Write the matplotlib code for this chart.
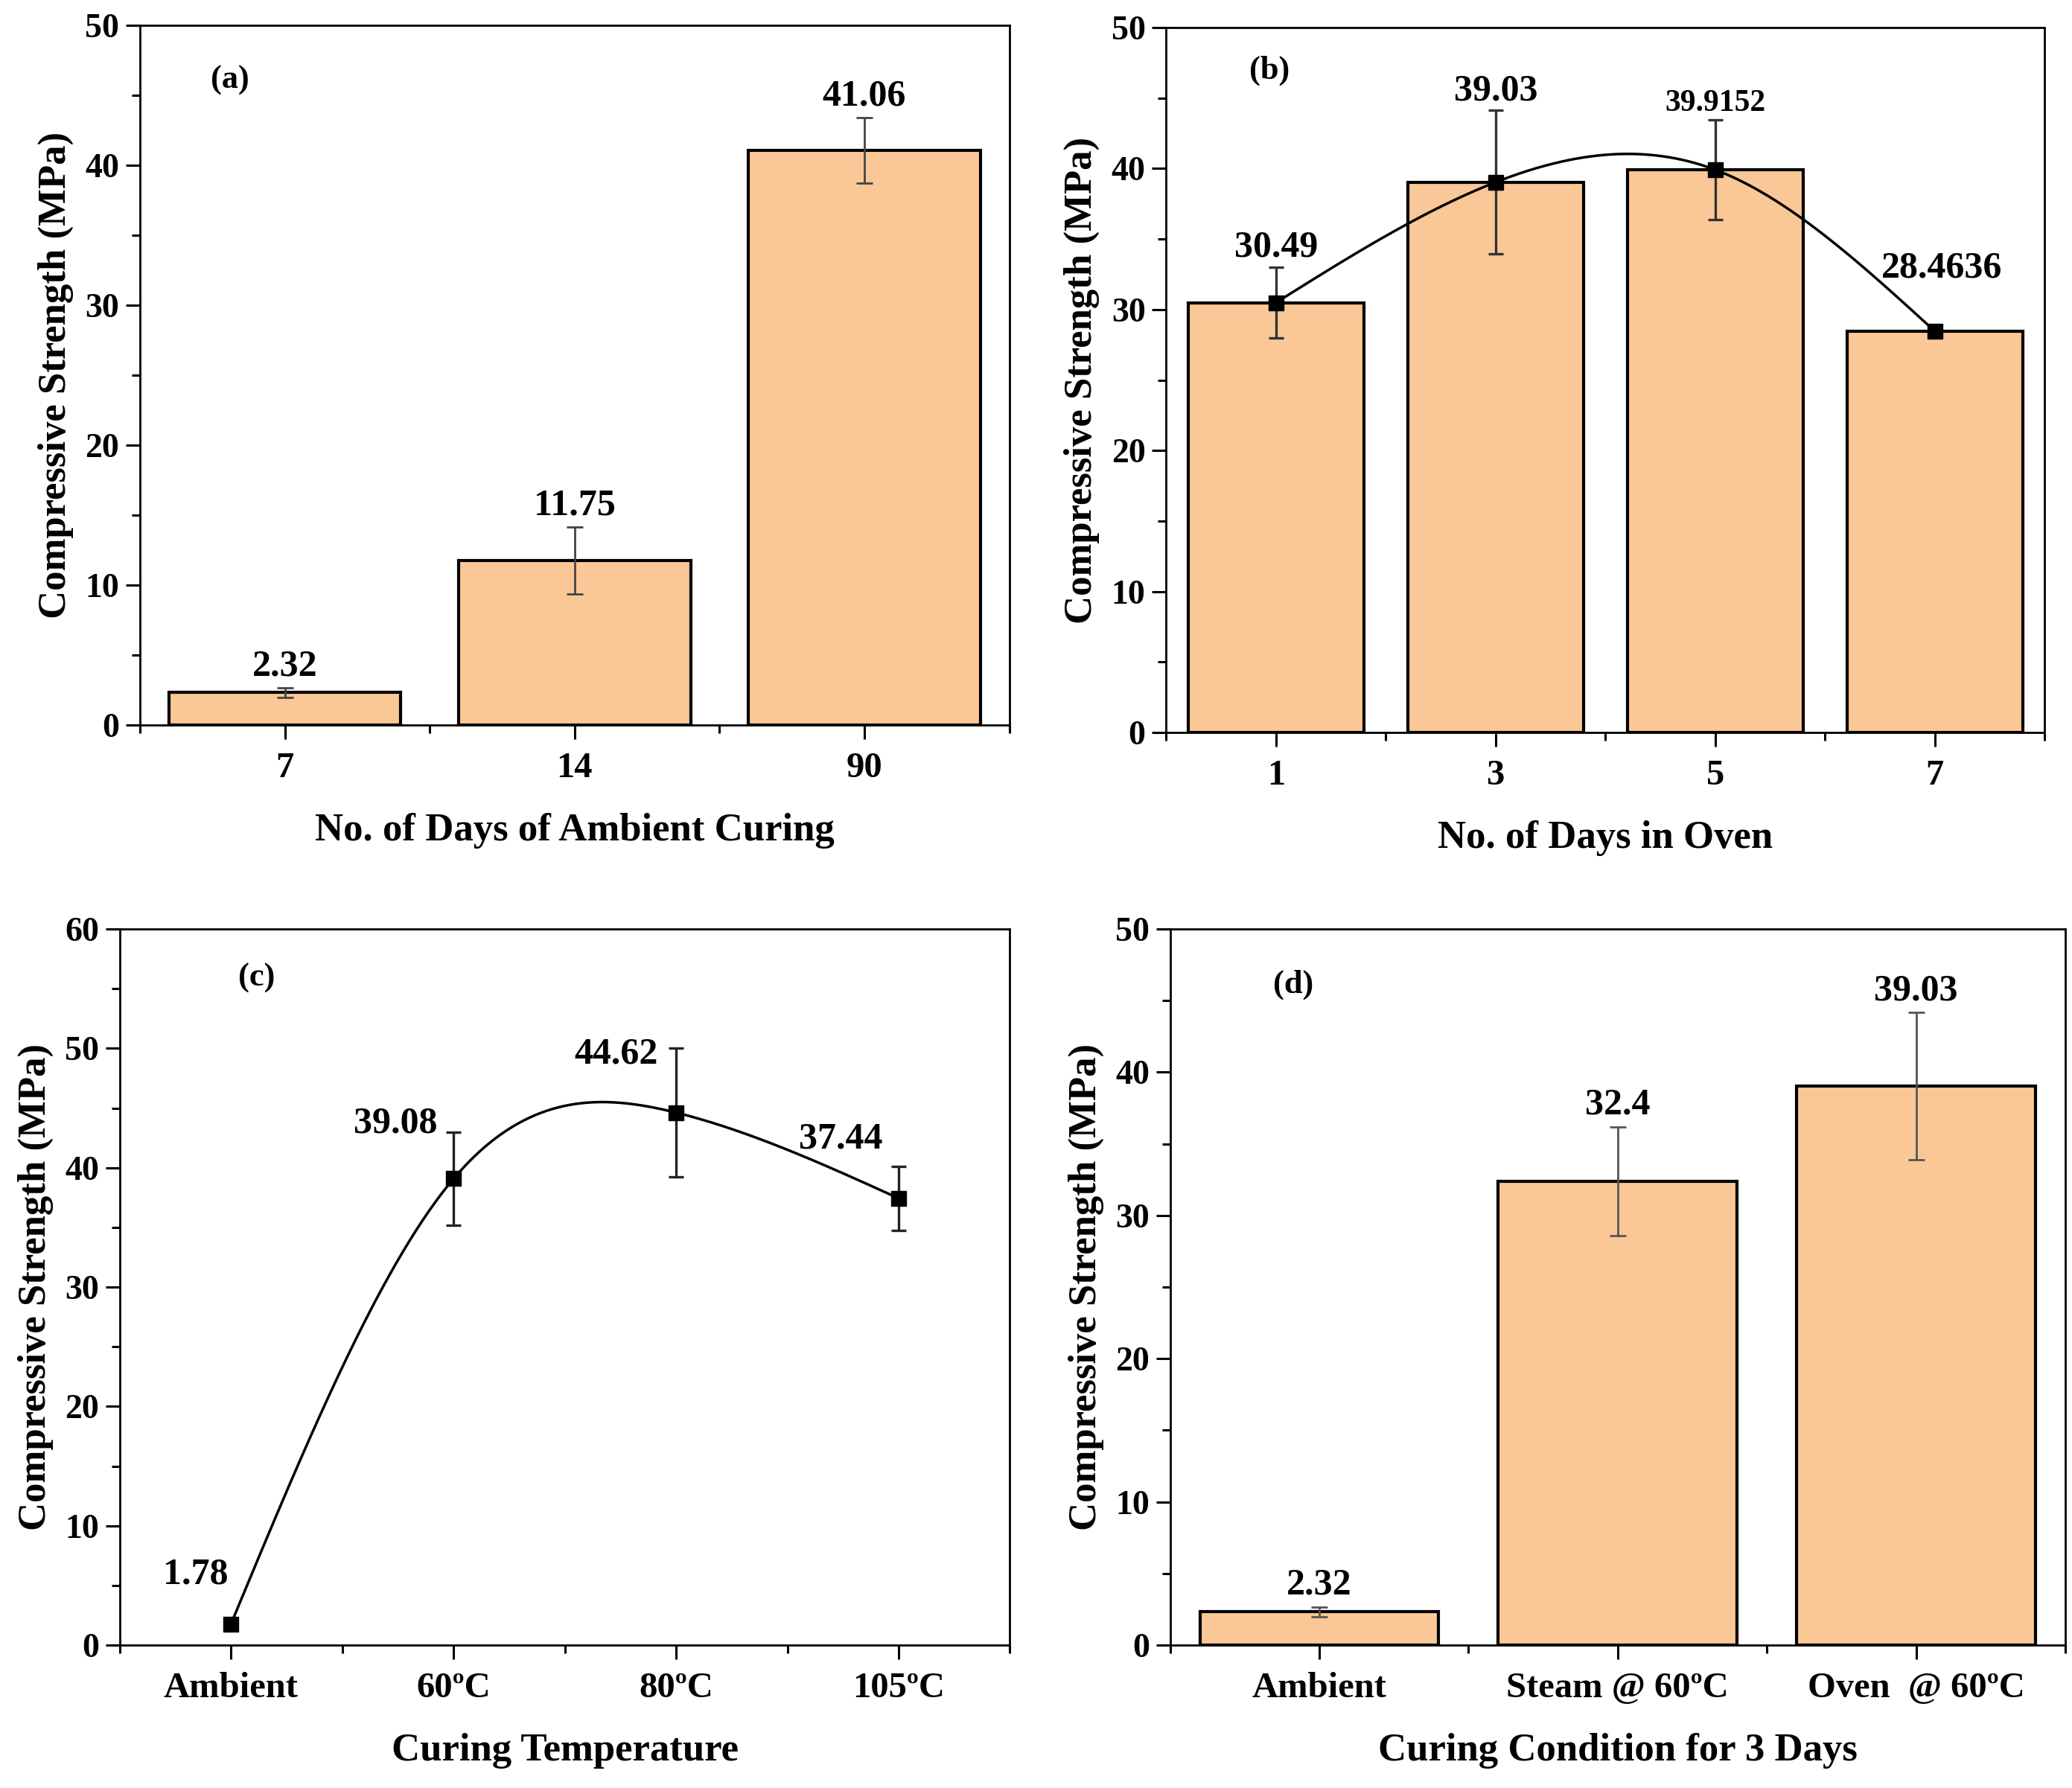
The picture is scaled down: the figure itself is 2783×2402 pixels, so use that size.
import numpy as np
import matplotlib
matplotlib.use("Agg")
import matplotlib.pyplot as plt
from matplotlib.ticker import MultipleLocator, FixedLocator

plt.rcParams["font.family"] = ["Liberation Serif", "DejaVu Serif"]
plt.rcParams["font.weight"] = "bold"

# ── data ────────────────────────────────────────────────────────────────────
a_days = ["7", "14", "90"]
a_strength = [2.32, 11.75, 41.06]
a_err = [0.35, 2.40, 2.35]

b_days = ["1", "3", "5", "7"]
b_strength = [30.49, 39.03, 39.9152, 28.4636]
b_err = [2.50, 5.10, 3.55, 0.30]
b_text = ["30.49", "39.03", "39.9152", "28.4636"]

c_temps = ["Ambient", "60ºC", "80ºC", "105ºC"]
c_strength = [1.78, 39.08, 44.62, 37.44]
c_err = [0.0, 3.90, 5.40, 2.70]

d_conditions = ["Ambient", "Steam @ 60ºC", "Oven  @ 60ºC"]
d_strength = [2.32, 32.4, 39.03]
d_err = [0.35, 3.80, 5.15]
d_text = ["2.32", "32.4", "39.03"]

BAR_COLOR = "#FAC896"
XTICK_FS = 35
YTICK_FS = 33
LABEL_FS = 38
VALUE_FS = 36
TAG_FS = 32


def natural_spline(x, y, xs):
    """Natural cubic spline through (x, y), evaluated at xs."""
    x = np.asarray(x, float)
    y = np.asarray(y, float)
    n = len(x)
    h = np.diff(x)
    A = np.zeros((n, n))
    r = np.zeros(n)
    A[0, 0] = A[-1, -1] = 1.0
    for i in range(1, n - 1):
        A[i, i - 1] = h[i - 1]
        A[i, i] = 2 * (h[i - 1] + h[i])
        A[i, i + 1] = h[i]
        r[i] = 6 * ((y[i + 1] - y[i]) / h[i] - (y[i] - y[i - 1]) / h[i - 1])
    M = np.linalg.solve(A, r)
    out = np.empty_like(xs)
    for k, xv in enumerate(xs):
        i = min(max(np.searchsorted(x, xv) - 1, 0), n - 2)
        t0, t1 = x[i + 1] - xv, xv - x[i]
        out[k] = (M[i] * t0**3 / (6 * h[i]) + M[i + 1] * t1**3 / (6 * h[i])
                  + (y[i] / h[i] - M[i] * h[i] / 6) * t0
                  + (y[i + 1] / h[i] - M[i + 1] * h[i] / 6) * t1)
    return out


def style_axes(ax, labels, ymax, xlabel, tag, tag_pos):
    n = len(labels)
    ax.set_xlim(-0.5, n - 0.5)
    ax.set_ylim(0, ymax)
    ax.xaxis.set_major_locator(FixedLocator(np.arange(n)))
    ax.xaxis.set_minor_locator(FixedLocator(np.arange(-0.5, n, 1.0)))
    ax.set_xticklabels(labels)
    ax.yaxis.set_major_locator(MultipleLocator(10))
    ax.yaxis.set_minor_locator(MultipleLocator(5))
    ax.tick_params(which="both", direction="out", width=2.2, top=False, right=False)
    ax.tick_params(which="major", length=14)
    ax.tick_params(which="minor", length=8)
    ax.tick_params(axis="x", which="major", labelsize=XTICK_FS, pad=12)
    ax.tick_params(axis="y", which="major", labelsize=YTICK_FS, pad=6)
    for lab in ax.get_xticklabels() + ax.get_yticklabels():
        lab.set_fontweight("bold")
    for sp in ax.spines.values():
        sp.set_linewidth(2)
    ax.set_xlabel(xlabel, fontsize=LABEL_FS, fontweight="bold", labelpad=27)
    ax.set_ylabel("Compressive Strength (MPa)", fontsize=LABEL_FS,
                  fontweight="bold", labelpad=11)
    ax.text(tag_pos[0], tag_pos[1], tag, transform=ax.transAxes,
            fontsize=TAG_FS, fontweight="bold", ha="center", va="center")


fig = plt.figure(figsize=(27.83, 24.02), dpi=100)

# ── (a) ambient curing ─────────────────────────────────────────────────────
ax = fig.add_axes([0.0676, 0.5945, 0.4195, 0.3913])
xa = np.arange(len(a_days))
ax.bar(xa, a_strength, width=0.8, color=BAR_COLOR, edgecolor="black",
       linewidth=3, zorder=2)
ax.errorbar(xa, a_strength, yerr=a_err, fmt="none", ecolor="#444444",
            elinewidth=2, capsize=8, capthick=2, zorder=3)
for xi, v, e in zip(xa, a_strength, a_err):
    ax.text(xi, v + e + 0.3, f"{v:.2f}", ha="center", va="bottom",
            fontsize=VALUE_FS, fontweight="bold")
style_axes(ax, a_days, 50, "No. of Days of Ambient Curing", "(a)", (0.103, 0.922))

# ── (b) days in oven ───────────────────────────────────────────────────────
ax = fig.add_axes([0.5628, 0.5903, 0.4240, 0.3943])
xb = np.arange(len(b_days))
ax.bar(xb, b_strength, width=0.8, color=BAR_COLOR, edgecolor="black",
       linewidth=3, zorder=2)
xs = np.linspace(0, len(xb) - 1, 300)
ax.plot(xs, natural_spline(xb, b_strength, xs), color="black", lw=2.5, zorder=3)
ax.errorbar(xb, b_strength, yerr=b_err, fmt="s", color="black", ms=14,
            ecolor="#333333", elinewidth=2.4, capsize=7, capthick=2.4, zorder=4)
b_label_y = [34.4, 45.5, 44.6, 32.9]
b_label_fs = [VALUE_FS, VALUE_FS, 30, VALUE_FS]
b_label_dx = [0, 0, 0, 0.03]
for xi, t, ly, fs, dx in zip(xb, b_text, b_label_y, b_label_fs, b_label_dx):
    ax.text(xi + dx, ly, t, ha="center", va="center", fontsize=fs, fontweight="bold")
style_axes(ax, b_days, 50, "No. of Days in Oven", "(b)", (0.1175, 0.939))

# ── (c) curing temperature ─────────────────────────────────────────────────
ax = fig.add_axes([0.0578, 0.0799, 0.4296, 0.4005])
xc = np.arange(len(c_temps))
xs = np.linspace(0, len(xc) - 1, 300)
ax.plot(xs, natural_spline(xc, c_strength, xs), color="black", lw=2.5, zorder=3)
ax.errorbar(xc, c_strength, yerr=c_err, fmt="s", color="black", ms=14,
            ecolor="#222222", elinewidth=2.4, capsize=7, capthick=2.4, zorder=4)
c_label_pos = [(-0.16, 5.9), (0.74, 43.7), (1.73, 49.5), (2.74, 42.4)]
for (lx, ly), v in zip(c_label_pos, c_strength):
    ax.text(lx, ly, f"{v:.2f}", ha="center", va="center",
            fontsize=VALUE_FS, fontweight="bold")
style_axes(ax, c_temps, 60, "Curing Temperature", "(c)", (0.154, 0.932))

# ── (d) curing condition for 3 days ────────────────────────────────────────
ax = fig.add_axes([0.5647, 0.0799, 0.4321, 0.4005])
xd = np.arange(len(d_conditions))
ax.bar(xd, d_strength, width=0.8, color=BAR_COLOR, edgecolor="black",
       linewidth=3, zorder=2)
ax.errorbar(xd, d_strength, yerr=d_err, fmt="none", ecolor="#555555",
            elinewidth=2, capsize=8, capthick=2, zorder=3)
for xi, v, e, t in zip(xd, d_strength, d_err, d_text):
    ax.text(xi, v + e + 0.3, t, ha="center", va="bottom",
            fontsize=VALUE_FS, fontweight="bold")
style_axes(ax, d_conditions, 50, "Curing Condition for 3 Days", "(d)", (0.138, 0.922))

fig.savefig("out.png", dpi=100, facecolor="white")
